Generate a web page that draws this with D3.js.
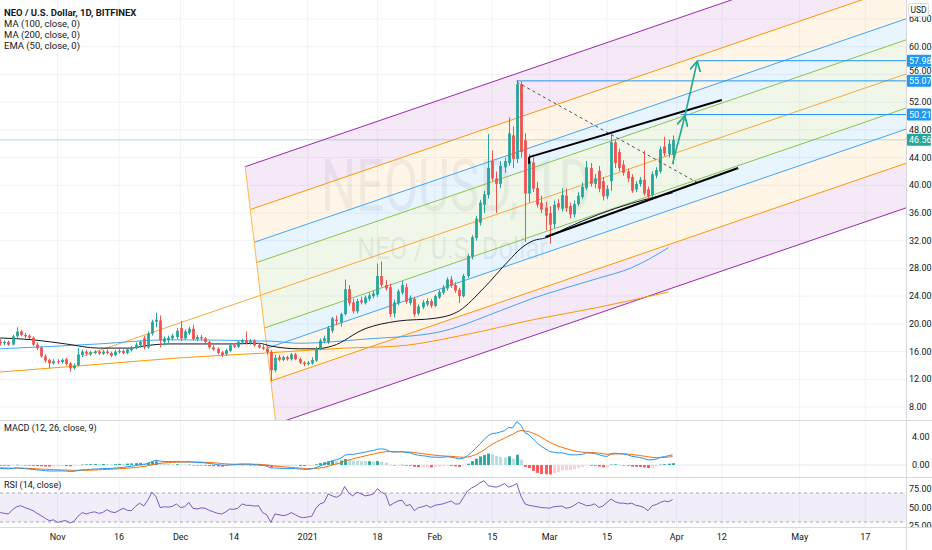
<!DOCTYPE html>
<html><head><meta charset="utf-8">
<script src="https://cdn.jsdelivr.net/npm/d3@7"></script>
<style>body{margin:0;background:#fff;overflow:hidden}svg{display:block;font-family:"Liberation Sans Narrow","Roboto",sans-serif;}</style>
</head><body><svg id="c" width="932" height="550"></svg>
<script>
// ---------------- DATA ----------------
const startDate = "2020-10-18";
// [open, high, low, close] daily, from startDate
const candles = [
[17.4,17.8,16.9,17.2],[17.2,17.6,16.9,17.4],[17.4,17.6,16.8,17.0],[17.0,18.4,16.9,18.2],[18.2,19.5,18.0,18.9],
[18.9,19.1,18.2,18.4],[18.4,18.7,17.9,18.2],[18.3,18.5,17.8,18.0],[18.0,18.2,16.8,17.0],[17.0,17.3,16.2,16.5],
[16.6,16.8,15.1,15.3],[15.3,15.6,14.4,14.7],[14.8,15.0,13.6,14.3],[14.3,14.9,14.1,14.6],[14.6,14.9,14.2,14.5],
[14.5,15.0,14.3,14.8],[14.9,15.1,14.0,14.2],[14.3,14.5,13.1,13.6],[13.6,14.3,13.4,14.0],[14.0,16.5,13.9,15.6],
[15.5,16.3,15.2,16.0],[16.0,16.2,15.4,15.7],[15.6,16.1,15.4,15.9],[15.8,16.2,15.6,16.0],[16.0,16.2,15.5,15.7],
[15.7,16.2,15.5,16.0],[16.0,16.3,15.6,15.8],[15.8,16.0,15.2,15.4],[15.5,16.2,15.3,16.0],[15.9,16.4,15.7,16.1],
[16.1,16.3,15.6,15.8],[15.8,16.5,15.6,16.3],[16.2,16.8,16.0,16.6],[16.5,17.3,16.3,17.0],[16.9,17.6,16.6,17.4],
[17.9,18.3,16.3,16.6],[16.6,18.9,16.4,18.6],[18.6,20.6,18.3,20.3],[20.3,21.6,19.5,20.6],[20.5,21.2,16.6,17.6],
[17.4,18.2,16.9,17.9],[17.7,18.3,17.2,18.0],[17.9,18.6,17.6,18.3],[18.1,19.4,17.8,19.0],[19.4,20.4,17.5,17.9],
[17.9,19.2,17.7,18.9],[18.7,19.6,18.4,19.3],[19.3,19.9,17.6,17.8],[17.8,18.4,17.5,18.1],[18.1,18.4,17.6,17.9],
[17.9,18.1,17.2,17.4],[17.4,17.6,16.4,16.6],[16.6,16.9,16.1,16.3],[16.4,16.6,15.6,15.8],[15.9,16.1,15.2,15.5],
[15.6,16.4,15.4,16.2],[16.1,17.1,15.9,16.9],[16.9,17.2,16.5,16.7],[16.7,17.6,16.5,17.4],[17.3,17.8,17.1,17.6],
[17.6,18.9,17.0,17.2],[17.2,17.8,17.0,17.5],[17.6,17.8,16.7,16.9],[17.0,17.2,16.4,16.6],[16.6,17.0,16.2,16.4],
[16.4,16.8,15.6,15.9],[15.9,16.2,11.7,13.3],[13.3,15.5,13.0,15.1],[15.2,15.5,14.6,14.8],[14.8,15.4,14.6,15.2],
[15.2,15.4,14.7,14.9],[14.9,15.8,14.7,15.6],[15.6,15.8,14.8,14.9],[14.9,15.1,14.2,14.4],[14.4,14.6,13.9,14.2],
[14.2,14.6,14.0,14.4],[14.3,15.2,14.1,14.8],[14.7,16.7,14.5,16.5],[16.4,17.9,16.2,17.6],[17.5,18.3,17.2,17.9],
[17.3,19.7,17.1,19.4],[19.0,21.0,18.7,20.8],[20.6,21.2,19.8,20.4],[20.2,21.6,19.6,21.4],[21.4,26.4,21.2,25.0],
[25.0,25.6,22.6,23.0],[23.1,23.6,21.5,21.8],[21.8,23.6,21.5,23.3],[23.4,23.9,22.8,23.1],[23.0,24.1,22.8,23.8],
[23.6,24.5,23.3,24.1],[24.0,24.8,23.7,24.4],[24.2,28.7,23.9,26.9],[26.9,29.0,25.3,25.6],[25.6,26.3,24.8,25.1],
[25.3,25.8,21.0,21.4],[21.5,23.5,20.9,23.1],[23.0,25.0,22.7,24.7],[24.5,26.2,24.2,25.6],[25.3,25.8,22.9,23.2],
[23.0,24.1,22.7,23.8],[23.6,23.9,21.0,21.4],[21.5,22.8,21.2,22.5],[22.4,23.4,22.1,23.1],[22.8,23.7,22.5,23.3],
[23.3,23.6,22.3,22.6],[22.6,24.2,22.4,24.0],[23.8,24.9,23.6,24.6],[24.5,25.6,24.2,25.2],[25.1,26.7,24.8,26.4],
[26.4,26.9,25.2,25.5],[25.6,26.0,24.5,24.8],[24.9,25.2,23.0,24.0],[24.0,27.2,23.8,26.9],[26.9,30.1,26.6,29.8],
[29.7,32.8,29.3,32.5],[32.4,35.6,32.0,35.2],[34.6,37.9,34.2,37.5],[37.2,39.2,36.0,38.7],[38.6,47.4,38.1,42.5],
[43.5,45.0,40.6,41.0],[41.0,42.0,36.0,40.2],[40.2,43.5,39.6,42.8],[42.6,44.0,41.8,43.5],[43.2,49.8,42.8,47.5],
[47.2,48.5,42.5,43.8],[43.8,55.2,43.2,54.6],[54.6,55.0,44.0,44.8],[46.5,47.5,31.8,38.8],[38.8,44.5,37.5,43.5],
[43.3,44.0,39.0,39.5],[39.6,40.5,36.8,37.2],[37.5,38.5,36.0,36.5],[36.8,37.6,33.5,35.6],[36.0,37.0,31.6,34.3],
[34.4,37.8,33.8,37.2],[37.4,38.0,36.4,36.8],[36.6,39.6,36.2,38.6],[38.5,39.5,36.2,36.7],[37.0,37.5,35.2,35.8],
[35.8,37.8,35.4,37.3],[37.3,39.0,37.0,38.5],[38.3,40.4,38.0,39.8],[39.6,43.5,39.3,42.6],[42.5,43.2,39.8,40.2],
[40.2,41.6,39.6,41.0],[42.1,42.8,39.0,39.5],[40.6,41.2,37.8,38.4],[38.4,40.0,38.0,39.5],[40.6,47.3,39.2,46.2],
[46.2,46.5,42.5,43.2],[44.8,45.3,42.0,42.5],[43.0,43.6,41.4,41.8],[42.0,42.4,40.5,41.0],[41.2,41.6,38.9,39.2],
[39.4,40.6,39.0,40.2],[40.2,41.2,39.8,40.8],[40.8,45.0,38.5,38.8],[39.4,39.8,37.8,38.4],[38.6,42.0,38.3,41.6],
[41.4,42.6,41.0,42.2],[42.0,45.6,41.7,45.2],[45.6,47.0,44.2,44.6],[44.5,46.6,44.0,46.0],[44.4,47.2,43.0,46.56]
];
// moving averages: [candle index, value]
const ema50 = [[0,17.96],[8,17.7],[16,17.1],[24,16.5],[32,16.5],[35,16.8],[41,17.1],[49,17.1],[57,17.1],[63,17.2],[66,16.8],[73,16.4],[77,16.4],[81,16.8],[89,19.3],[97,20.4],[106,20.8],[112,21.9],[118,25.2],[124,29.1],[127,30.9],[130,32.0],[133,32.4],[138,33.8],[146,35.8],[154,37.4],[164,38.9]];
const ma100 = [[0,16.4],[24,17.1],[41,17.7],[66,17.5],[73,17.2],[89,17.8],[106,18.7],[122,21.9],[130,23.7],[138,25.2],[146,26.6],[154,28.1],[163,31.0]];
const ma200 = [[0,13.05],[24,14.16],[44,15.1],[65,15.8],[84,16.5],[97,16.8],[114,18.5],[130,20.6],[146,22.4],[163,24.6]];
const macdLine = [-0.50,-0.52,-0.55,-0.50,-0.42,-0.45,-0.50,-0.58,-0.64,-0.70,-0.76,-0.82,-0.86,-0.86,-0.85,-0.84,-0.87,-0.92,-0.90,-0.78,
-0.70,-0.66,-0.62,-0.58,-0.56,-0.52,-0.50,-0.50,-0.44,-0.38,-0.34,-0.26,-0.18,-0.08,0.02,0.05,0.22,0.48,0.68,0.56,
0.50,0.48,0.48,0.52,0.46,0.46,0.48,0.40,0.36,0.34,0.30,0.22,0.15,0.06,-0.02,-0.04,0.02,0.04,0.10,0.14,
0.12,0.12,0.06,0.00,-0.06,-0.16,-0.42,-0.42,-0.46,-0.48,-0.52,-0.50,-0.52,-0.58,-0.62,-0.62,-0.56,-0.38,-0.14,0.08,
0.35,0.62,0.76,0.95,1.38,1.52,1.50,1.62,1.72,1.84,1.98,2.06,2.26,2.30,2.24,1.94,1.84,1.88,1.92,1.78,
1.74,1.52,1.40,1.32,1.26,1.14,1.12,1.10,1.12,1.18,1.12,1.00,0.86,1.00,1.34,1.82,2.40,3.02,3.60,4.20,
4.50,4.56,4.72,4.90,5.38,5.28,6.20,5.70,4.60,4.30,3.70,3.14,2.66,2.30,1.92,1.82,1.72,1.74,1.60,1.46,
1.44,1.46,1.52,1.72,1.68,1.64,1.48,1.30,1.22,1.62,1.68,1.64,1.56,1.46,1.26,1.16,1.08,0.92,0.74,0.76,
0.84,1.10,1.20,1.32,1.46];
const signalLine = [-0.40,-0.42,-0.44,-0.45,-0.45,-0.46,-0.47,-0.49,-0.52,-0.55,-0.58,-0.61,-0.64,-0.66,-0.68,-0.70,-0.72,-0.74,-0.76,-0.76,
-0.76,-0.75,-0.74,-0.72,-0.69,-0.66,-0.63,-0.60,-0.57,-0.54,-0.50,-0.46,-0.41,-0.35,-0.28,-0.21,-0.12,0.02,0.15,0.24,
0.30,0.34,0.37,0.40,0.41,0.42,0.43,0.43,0.42,0.41,0.39,0.36,0.32,0.27,0.21,0.16,0.13,0.11,0.11,0.12,
0.12,0.12,0.11,0.09,0.06,0.02,-0.07,-0.14,-0.20,-0.26,-0.31,-0.35,-0.38,-0.43,-0.47,-0.50,-0.51,-0.48,-0.42,-0.32,
-0.18,0.00,0.15,0.31,0.52,0.72,0.88,1.02,1.16,1.30,1.44,1.56,1.70,1.82,1.90,1.91,1.90,1.89,1.89,1.87,
1.84,1.78,1.70,1.62,1.55,1.47,1.40,1.34,1.30,1.27,1.24,1.19,1.13,1.10,1.15,1.28,1.50,1.80,2.16,2.57,
2.96,3.28,3.56,3.83,4.14,4.37,4.74,4.93,4.86,4.75,4.54,4.26,3.94,3.61,3.27,2.98,2.73,2.53,2.34,2.17,
2.02,1.91,1.83,1.81,1.78,1.75,1.70,1.62,1.54,1.56,1.58,1.59,1.59,1.56,1.50,1.43,1.36,1.27,1.17,1.09,
1.04,1.05,1.08,1.13,1.20];
const rsi = [43,42,41,47,51,52.5,50,48,45.6,42,38.7,35,31.8,33,29.5,31,32,28.6,31,38,
43,41,43,44,42,43,47,44,43,46,49,46,45.6,51.6,56,52,60,71,65,50,
51,50.5,51.6,54.8,50,51,57,49,48,49.5,49,46,44,42,41,44,48,47.5,49,55,
53,53,52,52.5,43,40,29.5,41,40,38.7,40,43,40,37,36,37,38,49,55,57,
68.6,66,64,67,79,70,66,71,69,66,67,68.6,76,71,68,52.5,56,59,60,52.5,
54,45.6,50,51,53,50,53,54,55,57,59,54.8,55,64,73,77,80,84,87,80,
79,78,80,83,78,80,83,66,55,53,52,51,50,49.5,49,51,51.6,52,49,50,
53,57,55,52.5,53,55,50,52,57,61.7,58,56,56,55,56,53,52,50,45.6,52.5,
54,57,59,58,61];
const priceTicks = [64,60,56,52,48,44,40,36,32,28,24,20,16,12,8];
const macdTicks = [4,0];
const rsiTicks = [75,50,25];
const dateTicks = [["2020-11-01","Nov"],["2020-11-16","16"],["2020-12-01","Dec"],["2020-12-14","14"],["2021-01-01","2021"],["2021-01-18","18"],["2021-02-01","Feb"],["2021-02-15","15"],["2021-03-01","Mar"],["2021-03-15","15"],["2021-04-01","Apr"],["2021-04-12","12"],["2021-05-01","May"],["2021-05-17","17"]];
// drawings (date, price)
const pitchfork = {p1:["2020-11-07",15.3], p2:["2020-12-18",36.5], p3:["2020-12-23",11.75]};
const pfLevels = [{v:0.382,c:"#8bc34a",f:"rgba(139,195,74,0.13)"},{v:0.618,c:"#42a5f5",f:"rgba(66,165,245,0.12)"},{v:1,c:"#ff9800",f:"rgba(255,152,0,0.09)"},{v:1.5,c:"#9c27b0",f:"rgba(156,39,176,0.10)"}];
const trendUpper = [["2021-02-24",44.07],["2021-04-12",52.3]];
const trendUpperStub = [["2021-02-24",44.07],["2021-02-24",43.1]];
const trendLower = [["2021-02-28",32.53],["2021-04-16",42.5]];
const dashedLine = [["2021-02-21",54.9],["2021-04-06",40.4]];
const arrowPath = [["2021-03-31",43.1],["2021-04-03",50.0],["2021-04-06",57.9]];
const hLevels = [{p:57.98,from:"2021-04-06"},{p:55.07,from:"2021-02-21"},{p:50.21,from:"2021-04-02"}];
const lastPrice = 46.56;
const legendLines = ["NEO / U.S. Dollar, 1D, BITFINEX","MA (100, close, 0)","MA (200, close, 0)","EMA (50, close, 0)"];

// ---------------- LAYOUT ----------------
const svg = d3.select("#c");
const PR = 906; // plot right
const MAIN = [0,420], MACDP=[420,477], RSIP=[477,527];
const parse = d3.utcParse("%Y-%m-%d");
const x = d3.scaleUtc().domain([parse("2020-11-01"), parse("2021-05-17")]).range([57.6, 865.3]);
const y = d3.scaleLinear().domain([8,64]).range([407,19]);
const ym = d3.scaleLinear().domain([0,4]).range([465,437]);
const yr = d3.scaleLinear().domain([30,70]).range([522,493]);
const t0 = parse(startDate);
const dateOf = i => d3.utcDay.offset(t0, i);
const P = a => [x(parse(a[0])), y(a[1])];

const defs = svg.append("defs");
function clip(id, y0, y1){ defs.append("clipPath").attr("id",id).append("rect").attr("x",0).attr("y",y0).attr("width",PR).attr("height",y1-y0); }
clip("cMain",MAIN[0],MAIN[1]); clip("cMacd",MACDP[0],MACDP[1]); clip("cRsi",RSIP[0],RSIP[1]);
defs.append("marker").attr("id","arr").attr("viewBox","0 0 10 10").attr("refX",9).attr("refY",5)
  .attr("markerWidth",7).attr("markerHeight",7).attr("orient","auto")
  .append("path").attr("d","M0,0 L9,5 L0,10").attr("fill","none").attr("stroke","#22ab94").attr("stroke-width",1.6);

// grid
const grid = svg.append("g");
dateTicks.forEach(d=>{ grid.append("line").attr("x1",x(parse(d[0]))).attr("x2",x(parse(d[0]))).attr("y1",0).attr("y2",527).attr("stroke","#f2f3f7"); });
priceTicks.forEach(p=>{ grid.append("line").attr("x1",0).attr("x2",PR).attr("y1",y(p)).attr("y2",y(p)).attr("stroke","#f2f3f7"); });

// main panel
const gm = svg.append("g").attr("clip-path","url(#cMain)");
// watermark
gm.append("text").attr("x",321).attr("y",211).attr("font-size",72).attr("textLength",270).attr("lengthAdjust","spacingAndGlyphs")
  .attr("fill","rgba(120,123,134,0.10)").text("NEOUSD, 1D");
gm.append("text").attr("x",357).attr("y",259).attr("font-size",31).attr("textLength",191).attr("lengthAdjust","spacingAndGlyphs")
  .attr("fill","rgba(120,123,134,0.12)").text("NEO / U.S. Dollar");

// pitchfork
const p1=P(pitchfork.p1), p2=P(pitchfork.p2), p3=P(pitchfork.p3);
const M=[(p2[0]+p3[0])/2,(p2[1]+p3[1])/2];
const D=[M[0]-p1[0], M[1]-p1[1]], H=[p2[0]-M[0], p2[1]-M[1]];
const st = (L,s)=>[M[0]+s*L*H[0], M[1]+s*L*H[1]];
const en = s=>{ const t=(1100-s[0])/D[0]; return [s[0]+t*D[0], s[1]+t*D[1]]; };
[1,-1].forEach(sg=>{
  let prev=0;
  pfLevels.forEach(l=>{
    const a=st(prev,sg), b=st(l.v,sg);
    gm.append("path").attr("d",d3.line()([a,en(a),en(b),b])+"Z").attr("fill",l.f);
    prev=l.v;
  });
});
[1,-1].forEach(sg=>{
  pfLevels.forEach(l=>{ const a=st(l.v,sg), b=en(a);
    gm.append("line").attr("x1",a[0]).attr("y1",a[1]).attr("x2",b[0]).attr("y2",b[1]).attr("stroke",l.c).attr("stroke-width",1); });
});
{ const a=st(1.5,1), b=st(1.5,-1);
  gm.append("line").attr("x1",a[0]).attr("y1",a[1]).attr("x2",b[0]).attr("y2",b[1]).attr("stroke","#ffb74d").attr("stroke-width",1);
  const e=en(M);
  gm.append("line").attr("x1",p1[0]).attr("y1",p1[1]).attr("x2",e[0]).attr("y2",e[1]).attr("stroke","#f6a93b").attr("stroke-width",1); }

// MAs
const maLine = d3.line().x(d=>x(dateOf(d[0]))).y(d=>y(d[1])).curve(d3.curveMonotoneX);
gm.append("path").attr("d",maLine(ma200)).attr("fill","none").attr("stroke","#ff9800").attr("stroke-width",1);
gm.append("path").attr("d",maLine(ma100)).attr("fill","none").attr("stroke","#42a5f5").attr("stroke-width",1);
gm.append("path").attr("d",maLine(ema50)).attr("fill","none").attr("stroke","#131722").attr("stroke-width",1);

// last price line
gm.append("line").attr("x1",0).attr("x2",PR).attr("y1",y(lastPrice)).attr("y2",y(lastPrice)).attr("stroke","rgba(38,166,154,0.35)").attr("stroke-width",1);

// candles
const cg = gm.append("g");
candles.forEach((c,i)=>{
  const cx = Math.round(x(dateOf(i)))+0.5, up=c[3]>=c[0], col= up?"#26a69a":"#ef5350";
  cg.append("line").attr("x1",cx).attr("x2",cx).attr("y1",y(c[1])).attr("y2",y(c[2])).attr("stroke",col).attr("stroke-width",1);
  const top=y(Math.max(c[0],c[3])), bot=y(Math.min(c[0],c[3]));
  cg.append("rect").attr("x",cx-1.4).attr("width",2.8).attr("y",top).attr("height",Math.max(1,bot-top)).attr("fill",col);
});

// drawings
const ln = (pts,st)=>{ const a=pts.map(P); return gm.append("path").attr("d",d3.line()(a)).attr("fill","none").attr("stroke",st); };
hLevels.forEach(h=>{ gm.append("line").attr("x1",x(parse(h.from))).attr("x2",PR).attr("y1",y(h.p)).attr("y2",y(h.p)).attr("stroke","#2196f3").attr("stroke-width",1); });
ln(dashedLine,"#555").attr("stroke-dasharray","3,3").attr("stroke-width",1);
ln(trendUpper,"#000").attr("stroke-width",2);
ln(trendUpperStub,"#000").attr("stroke-width",2);
ln(trendLower,"#000").attr("stroke-width",2);
ln(arrowPath.slice(0,2),"#22ab94").attr("stroke-width",1.6).attr("marker-end","url(#arr)");
ln(arrowPath.slice(1,3),"#22ab94").attr("stroke-width",1.6).attr("marker-end","url(#arr)");

// MACD panel
const gma = svg.append("g").attr("clip-path","url(#cMacd)");
gma.append("line").attr("x1",0).attr("x2",PR).attr("y1",ym(0)).attr("y2",ym(0)).attr("stroke","#e6e8ee");
let prevH=0;
macdLine.forEach((m,i)=>{
  const h=m-signalLine[i];
  const col = h>=0 ? (h>=prevH?"#26a69a":"#b2dfdb") : (h<prevH?"#ff5252":"#ffcdd2");
  prevH=h;
  const cx=Math.round(x(dateOf(i)))+0.5;
  gma.append("rect").attr("x",cx-1.4).attr("width",2.8).attr("y",Math.min(ym(h),ym(0))).attr("height",Math.max(0.5,Math.abs(ym(h)-ym(0)))).attr("fill",col);
});
const idxLine = (arr,sc)=>d3.line().x((d,i)=>x(dateOf(i))).y(d=>sc(d))(arr);
gma.append("path").attr("d",idxLine(signalLine,ym)).attr("fill","none").attr("stroke","#ff6d00").attr("stroke-width",1);
gma.append("path").attr("d",idxLine(macdLine,ym)).attr("fill","none").attr("stroke","#2196f3").attr("stroke-width",1);

// RSI panel
const gr = svg.append("g").attr("clip-path","url(#cRsi)");
gr.append("rect").attr("x",0).attr("width",PR).attr("y",yr(70)).attr("height",yr(30)-yr(70)).attr("fill","rgba(126,87,194,0.1)");
[70,30].forEach(v=>gr.append("line").attr("x1",0).attr("x2",PR).attr("y1",yr(v)).attr("y2",yr(v)).attr("stroke","#a7a9b3").attr("stroke-dasharray","3,3"));
gr.append("path").attr("d",idxLine(rsi,yr)).attr("fill","none").attr("stroke","#7e57c2").attr("stroke-width",1);

// separators
[MACDP[0],RSIP[0],RSIP[1]].forEach(v=>svg.append("line").attr("x1",0).attr("x2",932).attr("y1",v+0.5).attr("y2",v+0.5).attr("stroke","#d6d8de"));
svg.append("line").attr("x1",PR+0.5).attr("x2",PR+0.5).attr("y1",0).attr("y2",550).attr("stroke","#d6d8de");

// axes labels (labels that would sit under a price tag are nudged just above it)
const tagPrices = hLevels.map(h=>h.p).concat([lastPrice]);
const ax = svg.append("g").attr("font-size",9).attr("fill","#131722");
priceTicks.forEach(p=>{
  let yy = y(p)+3;
  tagPrices.forEach(tp=>{ const ty=y(tp); if (yy > ty-7 && yy-7 < ty+6) yy = ty-7; });
  ax.append("text").attr("x",909).attr("y",yy).text(p.toFixed(2));
});
macdTicks.forEach(p=>ax.append("text").attr("x",912).attr("y",ym(p)+3).text(p.toFixed(2)));
const rsiAx = svg.append("g").attr("clip-path","url(#cRsiAx)");
defs.append("clipPath").attr("id","cRsiAx").append("rect").attr("x",PR).attr("y",RSIP[0]).attr("width",30).attr("height",RSIP[1]-RSIP[0]);
rsiTicks.forEach(p=>rsiAx.append("text").attr("x",909).attr("y",yr(p)+3).attr("font-size",9).attr("fill","#131722").text(p.toFixed(2)));
dateTicks.forEach(d=>ax.append("text").attr("x",x(parse(d[0]))).attr("y",540).attr("text-anchor","middle").text(d[1]));

// price tags
const tag=(p,col)=>{ const g=svg.append("g");
  g.append("rect").attr("x",907).attr("y",y(p)-6).attr("width",24).attr("height",12).attr("rx",1).attr("fill",col);
  g.append("text").attr("x",909).attr("y",y(p)+3).attr("font-size",9).attr("fill","#fff").text(p.toFixed(2)); };
hLevels.forEach(h=>tag(h.p,"#2196f3"));
tag(lastPrice,"#26a69a");
// USD box
svg.append("rect").attr("x",908.5).attr("y",3.5).attr("width",20).attr("height",13).attr("rx",2).attr("fill","#fff").attr("stroke","#d6d8de");
svg.append("text").attr("x",918.5).attr("y",13).attr("text-anchor","middle").attr("font-size",8.5).attr("fill","#131722").text("USD");

// legends
legendLines.forEach((t,i)=>svg.append("text").attr("x",4).attr("y",15.5+i*11).attr("font-size",9.5).attr("fill","#131722").attr("font-weight",i===0?"bold":"normal").text(t));
svg.append("text").attr("x",4).attr("y",431).attr("font-size",9).attr("fill","#131722").text("MACD (12, 26, close, 9)");
svg.append("text").attr("x",4).attr("y",488).attr("font-size",9).attr("fill","#131722").text("RSI (14, close)");
</script></body></html>
